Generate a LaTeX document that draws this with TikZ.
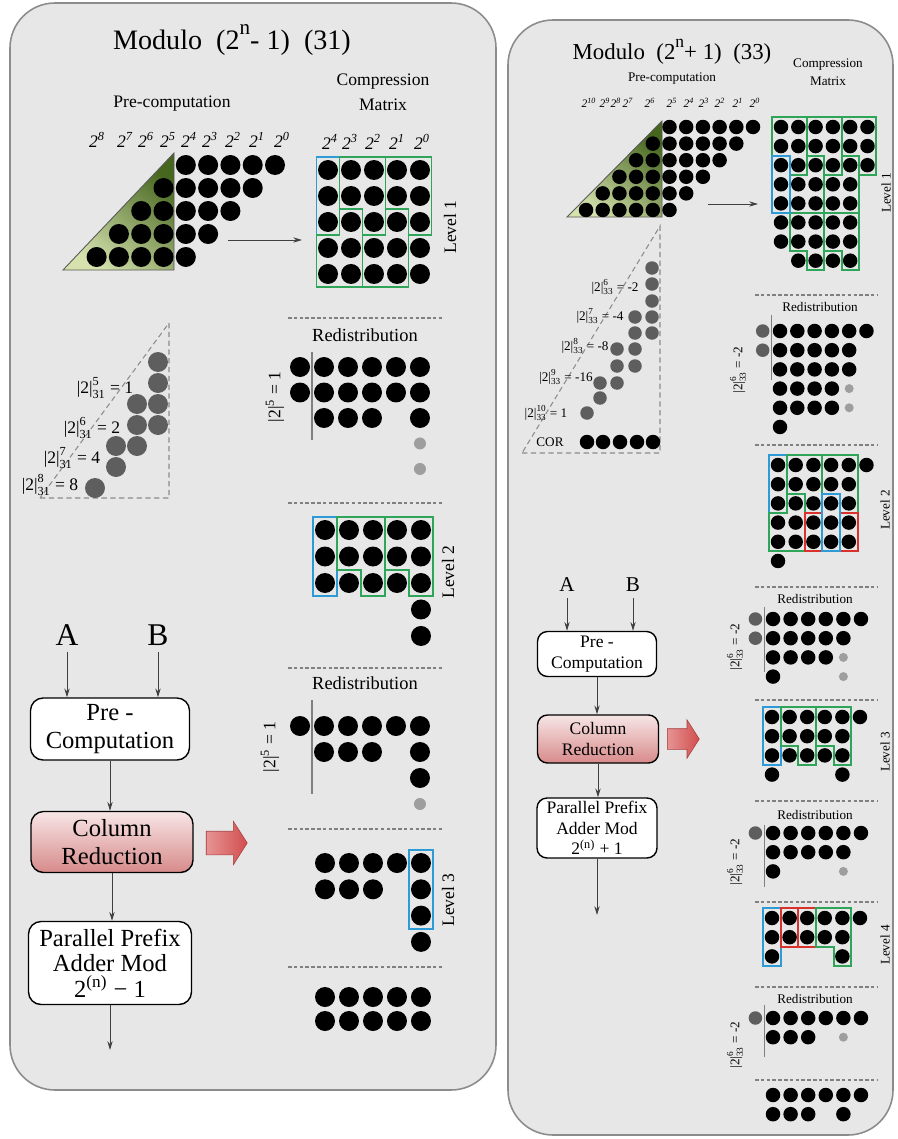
\documentclass[tikz,border=0pt]{standalone}
\usepackage{fontspec}
\setmainfont{Liberation Serif}
\usetikzlibrary{arrows.meta,shapes.arrows}
\definecolor{panelfill}{HTML}{E7E7E7}
\definecolor{panelline}{HTML}{8C8C8C}
\definecolor{grpblue}{HTML}{2E9BD6}
\definecolor{grpgreen}{HTML}{2FA55A}
\definecolor{grpred}{HTML}{D9312B}
\definecolor{dotgray}{HTML}{5E5E5E}
\definecolor{dotpale}{HTML}{9E9E9E}
\definecolor{tridark}{HTML}{46661E}
\definecolor{trilight}{HTML}{D5E2AE}
\definecolor{redlight}{HTML}{F7E6E6}
\definecolor{reddark}{HTML}{D88A8A}
\definecolor{arrowred}{HTML}{D24E4E}
\definecolor{arrowpink}{HTML}{E69494}
\tikzset{
  panel/.style={fill=panelfill, draw=panelline, line width=0.9pt, rounded corners=0.9cm},
  bdot/.style={fill=black, radius=0.2cm},
  gdot/.style={fill=dotgray, radius=0.2cm},
  pdot/.style={fill=dotpale, radius=0.12cm},
  sbdot/.style={fill=black, radius=0.145cm},
  sgdot/.style={fill=dotgray, radius=0.135cm},
  spdot/.style={fill=dotpale, radius=0.09cm},
  blbox/.style={draw=grpblue, line width=1.1pt},
  grbox/.style={draw=grpgreen, line width=1.1pt},
  rdbox/.style={draw=grpred, line width=1.1pt},
  sepline/.style={draw=gray, dash pattern=on 2pt off 1.3pt, line width=0.8pt},
  divider/.style={draw=gray, line width=0.8pt},
  tridash/.style={draw=gray!90, dash pattern=on 3pt off 2pt, line width=0.6pt},
  flowbox/.style={draw, rounded corners=0.25cm, fill=white, align=center, inner sep=1pt, line width=0.8pt},
  crbox/.style={flowbox, top color=redlight, bottom color=reddark},
  flow/.style={-{Stealth[length=5pt,width=3pt]}, draw=black!75, line width=0.5pt},
  blockarrow/.style={single arrow, single arrow tip angle=115, inner xsep=0pt,
                     left color=arrowpink, right color=arrowred, draw=arrowred!80!black, line width=0.3pt},
}
\newcommand{\dotgrid}[2]{\foreach \rowi/\colset in {#2} {\foreach \coli in \colset {\fill[#1] (\coli,\rowi) circle;}}}
\newcommand{\pw}[1]{\textit{2\textsuperscript{#1}}}
\newcommand{\modres}[2]{|2|\rlap{\raisebox{0.15ex}{\textsuperscript{#1}}}\raisebox{-0.25ex}{\textsubscript{#2}}}
\newcommand{\fs}[1]{\fontsize{#1}{#1}\selectfont}

\begin{document}
\begin{tikzpicture}[x=0.02cm, y=-0.02cm]
  \useasboundingbox (0,0) rectangle (897,1139);
  \fill[white] (0,0) rectangle (897,1139);
  \path[panel] (10,3) rectangle (496,1090);
  \path[panel] (508,20) rectangle (893,1135);

  % modulo 2^n - 1
  \node[font=\fs{16}] (ltitle) at (232,40) {Modulo \ (2\raisebox{1.2ex}{\fs{12}n}- 1) \ (31)};
  \node[font=\fs{10}] (lprehead) at (172,104) {Pre-computation};
  \node[font=\fs{10}] (lcomp) at (383,82) {Compression};
  \node[font=\fs{10}] (lmat) at (383,105) {Matrix};
  \foreach \k/\px in {8/97,7/125,6/146,5/168,4/189,3/210,2/233,1/257,0/282}
    \node[font=\fs{10}] (lp\k) at (\px,140) {\pw{\k}};
  \foreach \k/\px in {4/330,3/350,2/373,1/397,0/422}
    \node[font=\fs{10}] (lm\k) at (\px,142) {\pw{\k}};

  \path[draw=gray!70!black, line width=0.5pt, top color=tridark, bottom color=trilight, shading angle=-40]
    (63,270) -- (174,270) -- (174,153) -- cycle;
  \begin{scope}[shift={(275,165)}, x=-0.446cm, y=-0.46cm]
    \dotgrid{bdot}{0/{0,...,4},1/{1,...,5},2/{2,...,6},3/{3,...,7},4/{4,...,8}}
  \end{scope}
  \coordinate (lpa) at (228,240);
  \coordinate (lpb) at (302,240);
  \draw[flow] (lpa) -- (lpb);

  \begin{scope}[shift={(328,170)}, x=0.46cm, y=-0.52cm]
    \dotgrid{bdot}{0/{0,...,4},1/{0,...,4},2/{0,...,4},3/{0,...,4},4/{0,...,4}}
    \draw[blbox] (-0.5,-0.5) rectangle (0.5,2.5);
    \draw[grbox] (0.5,-0.5) -- (2.5,-0.5) -- (2.5,2.5) -- (1.5,2.5) -- (1.5,1.5) -- (0.5,1.5) -- cycle;
    \draw[grbox] (2.5,-0.5) -- (4.5,-0.5) -- (4.5,2.5) -- (3.5,2.5) -- (3.5,1.5) -- (2.5,1.5) -- cycle;
    \draw[grbox] (-0.5,2.5) -- (0.5,2.5) -- (0.5,1.5) -- (1.5,1.5) -- (1.5,4.5) -- (-0.5,4.5) -- cycle;
    \draw[grbox] (1.5,2.5) -- (2.5,2.5) -- (2.5,1.5) -- (3.5,1.5) -- (3.5,4.5) -- (1.5,4.5) -- cycle;
  \end{scope}
  \node[rotate=90, font=\fs{10}] (llev1) at (450,227) {Level 1};

  % mapped bits
  \draw[tridash] (40,498) -- (169,498) -- (169,323) -- cycle;
  \foreach \px/\py in {158/362,158/383,158/404,158/425,137/404,137/425,137/446,116/446,116/467,95/488}
    \fill[gdot] (\px,\py) circle;
  \node[font=\fs{10}] (lr5) at (105,388) {\modres{5}{31} = 1};
  \node[font=\fs{10}] (lr6) at (92,428) {\modres{6}{31} = 2};
  \node[font=\fs{10}] (lr7) at (72,458) {\modres{7}{31} = 4};
  \node[font=\fs{10}] (lr8) at (50,485) {\modres{8}{31} = 8};

  \draw[sepline] (288,318) -- (442,318);
  \node[font=\fs{10.5}] (lred1) at (365,335) {Redistribution};
  \begin{scope}[shift={(324,367)}, x=0.48cm, y=-0.51cm]
    \dotgrid{bdot}{0/{-1,0,...,4},1/{-1,0,...,4},2/{0,1,2,4}}
    \fill[pdot] (4,3) circle;
    \fill[pdot] (4,4) circle;
    \draw[divider] (-0.5,-0.6) -- (-0.5,2.85);
  \end{scope}
  \node[rotate=90, font=\fs{10}] (lw1) at (275,397) {|2|\textsuperscript{5} = 1};

  \draw[sepline] (288,503) -- (442,503);
  \begin{scope}[shift={(325,530)}, x=0.48cm, y=-0.53cm]
    \dotgrid{bdot}{0/{0,...,4},1/{0,...,4},2/{0,...,4},3/{4},4/{4}}
    \draw[blbox] (-0.5,-0.5) rectangle (0.5,2.5);
    \draw[grbox] (0.5,-0.5) -- (2.5,-0.5) -- (2.5,2.5) -- (1.5,2.5) -- (1.5,1.5) -- (0.5,1.5) -- cycle;
    \draw[grbox] (2.5,-0.5) -- (4.5,-0.5) -- (4.5,2.5) -- (3.5,2.5) -- (3.5,1.5) -- (2.5,1.5) -- cycle;
  \end{scope}
  \node[rotate=90, font=\fs{10}] (llev2) at (448,572) {Level 2};

  \draw[sepline] (288,668) -- (442,668);
  \node[font=\fs{10.5}] (lred2) at (365,683) {Redistribution};
  \begin{scope}[shift={(324,726)}, x=0.48cm, y=-0.52cm]
    \dotgrid{bdot}{0/{-1,0,...,4},1/{0,1,2,4},2/{4}}
    \fill[pdot] (4,3) circle;
    \draw[divider] (-0.5,-1) -- (-0.5,2.6);
  \end{scope}
  \node[rotate=90, font=\fs{10}] (lw2) at (270,747) {|2|\textsuperscript{5} = 1};

  \draw[sepline] (288,829) -- (442,829);
  \begin{scope}[shift={(325,863)}, x=0.48cm, y=-0.526cm]
    \dotgrid{bdot}{0/{0,...,4},1/{0,1,2,4},2/{4},3/{4}}
    \draw[blbox] (3.5,-0.5) rectangle (4.5,2.5);
  \end{scope}
  \node[rotate=90, font=\fs{10}] (llev3) at (448,900) {Level 3};

  \draw[sepline] (288,967) -- (442,967);
  \begin{scope}[shift={(325,997)}, x=0.48cm, y=-0.48cm]
    \dotgrid{bdot}{0/{0,...,4},1/{0,...,4}}
  \end{scope}

  \node[font=\fs{18}] (lA) at (67,635) {A};
  \node[font=\fs{18}] (lB) at (158,635) {B};
  \node[flowbox, minimum width=3.18cm, minimum height=1.24cm, font=\fontsize{14}{16}\selectfont] (lpre) at (110,729) {Pre -\\Computation};
  \node[crbox, minimum width=3.24cm, minimum height=1.22cm, font=\fontsize{14}{16}\selectfont] (lcr) at (112,842) {Column\\Reduction};
  \node[flowbox, minimum width=3.26cm, minimum height=1.66cm, font=\fontsize{14}{14.5}\selectfont] (lpp) at (110,963) {Parallel Prefix\\Adder Mod\\2\textsuperscript{(n)} − 1};
  \node[blockarrow, inner ysep=0.23cm, minimum height=0.82cm, single arrow head extend=0.2cm] (lbig) at (223,843) {};
  \coordinate (lout) at (108,1050);
  \draw[flow] (lA) -- (lA |- lpre.north);
  \draw[flow] (lB) -- (lB |- lpre.north);
  \draw[flow] (lpre.south) -- (lpre.south |- lcr.north);
  \draw[flow] (lcr.south) -- (lcr.south |- lpp.north);
  \draw[flow] (lpp.south) -- (lpp.south |- lout);

  % modulo 2^n + 1
  \node[font=\fs{13}] (rtitle) at (672,52) {Modulo \ (2\raisebox{1.1ex}{\fs{10}n}+ 1) \ (33)};
  \node[font=\fs{7.5}] (rprehead) at (672,79) {Pre-computation};
  \node[font=\fs{7.5}] (rcomp) at (828,65) {Compression};
  \node[font=\fs{7.5}] (rmat) at (828,81) {Matrix};
  \foreach \k/\px in {10/589,9/605,8/616,7/628,6/650,5/672,4/689,3/704,2/720,1/738,0/755}
    \node[font=\fs{6.5}] (rp\k) at (\px,103) {\pw{\k}};

  \path[draw=gray!70!black, line width=0.5pt, top color=tridark, bottom color=trilight, shading angle=-40]
    (567,217) -- (662,217) -- (662,121) -- cycle;
  \begin{scope}[shift={(753,127)}, x=-0.334cm, y=-0.332cm]
    \dotgrid{sbdot}{0/{0,...,5},1/{1,...,6},2/{2,...,7},3/{3,...,8},4/{4,...,9},5/{5,...,10}}
  \end{scope}
  \coordinate (rpa) at (708,204);
  \coordinate (rpb) at (758,204);
  \draw[flow] (rpa) -- (rpb);

  \begin{scope}[shift={(781,127)}, x=0.346cm, y=-0.382cm]
    \dotgrid{sbdot}{0/{0,...,5},1/{0,...,5},2/{0,...,5},3/{0,...,4},4/{0,...,4},5/{0,...,4},6/{0,...,4},7/{1,...,4}}
    \draw[grbox] (-0.5,-0.5) -- (1.5,-0.5) -- (1.5,2.5) -- (0.5,2.5) -- (0.5,1.5) -- (-0.5,1.5) -- cycle;
    \draw[grbox] (1.5,-0.5) -- (3.5,-0.5) -- (3.5,2.5) -- (2.5,2.5) -- (2.5,1.5) -- (1.5,1.5) -- cycle;
    \draw[grbox] (3.5,-0.5) -- (5.5,-0.5) -- (5.5,2.5) -- (4.5,2.5) -- (4.5,1.5) -- (3.5,1.5) -- cycle;
    \draw[grbox] (0.5,2.5) -- (1.5,2.5) -- (1.5,1.5) -- (2.5,1.5) -- (2.5,4.5) -- (0.5,4.5) -- cycle;
    \draw[grbox] (2.5,2.5) -- (3.5,2.5) -- (3.5,1.5) -- (4.5,1.5) -- (4.5,4.5) -- (2.5,4.5) -- cycle;
    \draw[grbox] (0.5,4.5) -- (2.5,4.5) -- (2.5,7.5) -- (1.5,7.5) -- (1.5,6.5) -- (0.5,6.5) -- cycle;
    \draw[grbox] (2.5,4.5) -- (4.5,4.5) -- (4.5,7.5) -- (3.5,7.5) -- (3.5,6.5) -- (2.5,6.5) -- cycle;
    \draw[blbox] (-0.5,1.5) rectangle (0.5,4.5);
  \end{scope}
  \node[rotate=90, font=\fs{7.5}] (rlev1) at (886,193) {Level 1};

  \draw[tridash] (522,453) -- (660,453) -- (660,226) -- cycle;
  \foreach \px/\py in {652/268,652/284,652/301,652/317,652/333,635/317,635/333,635/349,635/366,617/349,617/366,617/383,600/383,600/398,587/413}
    \fill[sgdot] (\px,\py) circle;
  \node[font=\fs{7.5}] (rr6) at (615,287) {\modres{6}{33} = -2};
  \node[font=\fs{7.5}] (rr7) at (600,316) {\modres{7}{33} = -4};
  \node[font=\fs{7.5}] (rr8) at (585,346) {\modres{8}{33} = -8};
  \node[font=\fs{7.5}] (rr9) at (566,377) {\modres{9}{33} = -16};
  \node[font=\fs{7.5}] (rr10) at (546,413) {\modres{10}{33} = 1};
  \node[font=\fs{7.5}] (rcor) at (550,442) {COR};
  \foreach \px in {587,603,620,637,653}
    \fill[sbdot] (\px,442) circle;

  \draw[sepline] (755,295) -- (877,295);
  \node[font=\fs{7.5}] (rred1) at (820,307) {Redistribution};
  \begin{scope}[shift={(780,331)}, x=0.346cm, y=-0.384cm]
    \dotgrid{sgdot}{0/{-1},1/{-1}}
    \dotgrid{sbdot}{0/{0,...,5},1/{0,...,4},2/{0,...,4},3/{0,...,3},4/{0,...,3},5/{0}}
    \fill[spdot] (4,3) circle;
    \fill[spdot] (4,4) circle;
    \draw[divider] (-0.5,-0.83) -- (-0.5,2.56);
  \end{scope}
  \node[rotate=90, font=\fs{7.5}] (rw1) at (738,370) {\modres{6}{33} = -2};

  \draw[sepline] (755,445) -- (877,445);
  \begin{scope}[shift={(778,465)}, x=0.354cm, y=-0.384cm]
    \dotgrid{sbdot}{0/{0,...,5},1/{0,...,4},2/{0,...,4},3/{0,...,4},4/{0,...,4},5/{0}}
    \draw[blbox] (-0.5,-0.5) rectangle (0.5,2.5);
    \draw[grbox] (0.5,-0.5) -- (2.5,-0.5) -- (2.5,2.5) -- (1.5,2.5) -- (1.5,1.5) -- (0.5,1.5) -- cycle;
    \draw[grbox] (2.5,-0.5) -- (4.5,-0.5) -- (4.5,2.5) -- (3.5,2.5) -- (3.5,1.5) -- (2.5,1.5) -- cycle;
    \draw[grbox] (-0.5,2.5) -- (0.5,2.5) -- (0.5,1.5) -- (1.5,1.5) -- (1.5,4.5) -- (-0.5,4.5) -- cycle;
    \draw[rdbox] (1.5,2.5) rectangle (2.5,4.5);
    \draw[rdbox] (3.5,2.5) rectangle (4.5,4.5);
    \draw[blbox] (2.5,1.5) rectangle (3.5,4.5);
  \end{scope}
  \node[rotate=90, font=\fs{7.5}] (rlev2) at (885,510) {Level 2};

  \draw[sepline] (755,587) -- (877,587);
  \node[font=\fs{7.5}] (rred2) at (815,599) {Redistribution};
  \begin{scope}[shift={(773,619)}, x=0.352cm, y=-0.384cm]
    \dotgrid{sgdot}{0/{-1},1/{-1}}
    \dotgrid{sbdot}{0/{0,...,5},1/{0,...,4},2/{0,...,3},3/{0}}
    \fill[spdot] (4,2) circle;
    \fill[spdot] (4,3) circle;
    \draw[divider] (-0.5,-0.63) -- (-0.5,2.76);
  \end{scope}
  \node[rotate=90, font=\fs{7.5}] (rw2) at (735,647) {\modres{6}{33} = -2};

  \draw[sepline] (755,700) -- (877,700);
  \begin{scope}[shift={(772,717)}, x=0.352cm, y=-0.384cm]
    \dotgrid{sbdot}{0/{0,...,5},1/{0,...,4},2/{0,...,4},3/{0,4}}
    \draw[blbox] (-0.5,-0.5) rectangle (0.5,2.5);
    \draw[grbox] (0.5,-0.5) -- (2.5,-0.5) -- (2.5,2.5) -- (1.5,2.5) -- (1.5,1.5) -- (0.5,1.5) -- cycle;
    \draw[grbox] (2.5,-0.5) -- (4.5,-0.5) -- (4.5,2.5) -- (3.5,2.5) -- (3.5,1.5) -- (2.5,1.5) -- cycle;
  \end{scope}
  \node[rotate=90, font=\fs{7.5}] (rlev3) at (885,752) {Level 3};

  \draw[sepline] (755,801) -- (877,801);
  \node[font=\fs{7.5}] (rred3) at (815,815) {Redistribution};
  \begin{scope}[shift={(773,833)}, x=0.352cm, y=-0.384cm]
    \dotgrid{sgdot}{0/{-1}}
    \dotgrid{sbdot}{0/{0,...,5},1/{0,...,4},2/{0}}
    \fill[spdot] (4,2) circle;
    \draw[divider] (-0.5,-0.42) -- (-0.5,2.82);
  \end{scope}
  \node[rotate=90, font=\fs{7.5}] (rw3) at (735,862) {\modres{6}{33} = -2};

  \draw[sepline] (755,902) -- (877,902);
  \begin{scope}[shift={(772,918)}, x=0.352cm, y=-0.384cm]
    \dotgrid{sbdot}{0/{0,...,5},1/{0,...,4},2/{0,4}}
    \draw[blbox] (-0.5,-0.5) rectangle (0.5,2.5);
    \draw[rdbox] (0.5,-0.5) rectangle (1.5,1.5);
    \draw[rdbox] (1.5,-0.5) rectangle (2.5,1.5);
    \draw[grbox] (2.5,-0.5) -- (4.5,-0.5) -- (4.5,2.5) -- (3.5,2.5) -- (3.5,1.5) -- (2.5,1.5) -- cycle;
  \end{scope}
  \node[rotate=90, font=\fs{7.5}] (rlev4) at (885,945) {Level 4};

  \draw[sepline] (755,987) -- (877,987);
  \node[font=\fs{7.5}] (rred4) at (815,999) {Redistribution};
  \begin{scope}[shift={(773,1018)}, x=0.352cm, y=-0.384cm]
    \dotgrid{sgdot}{0/{-1}}
    \dotgrid{sbdot}{0/{0,...,5},1/{0,1,2}}
    \fill[spdot] (4,1) circle;
    \draw[divider] (-0.5,-0.68) -- (-0.5,2.03);
  \end{scope}
  \node[rotate=90, font=\fs{7.5}] (rw4) at (735,1045) {\modres{6}{33} = -2};

  \draw[sepline] (755,1080) -- (877,1080);
  \begin{scope}[shift={(773,1095)}, x=0.352cm, y=-0.384cm]
    \dotgrid{sbdot}{0/{0,...,5},1/{0,1,2,4}}
  \end{scope}

  \node[font=\fs{12}] (rA) at (567,585) {A};
  \node[font=\fs{12}] (rB) at (633,585) {B};
  \node[flowbox, rounded corners=0.2cm, minimum width=2.38cm, minimum height=0.9cm, font=\fontsize{10}{12}\selectfont] (rpre) at (597,654) {Pre -\\Computation};
  \node[crbox, rounded corners=0.2cm, minimum width=2.42cm, minimum height=0.96cm, font=\fontsize{10}{12}\selectfont] (rcr) at (598,739) {Column\\Reduction};
  \node[flowbox, rounded corners=0.2cm, minimum width=2.4cm, minimum height=1.2cm, font=\fontsize{10}{11.5}\selectfont] (rpp) at (597,828) {Parallel Prefix\\Adder Mod\\2\textsuperscript{(n)} + 1};
  \node[blockarrow, inner ysep=0.2cm, minimum height=0.64cm, single arrow head extend=0.18cm] (rbig) at (680,739) {};
  \coordinate (rout) at (597,915);
  \draw[flow] (rA) -- (rA |- rpre.north);
  \draw[flow] (rB) -- (rB |- rpre.north);
  \draw[flow] (rpre.south) -- (rpre.south |- rcr.north);
  \draw[flow] (rcr.south) -- (rcr.south |- rpp.north);
  \draw[flow] (rpp.south) -- (rpp.south |- rout);
\end{tikzpicture}
\end{document}
